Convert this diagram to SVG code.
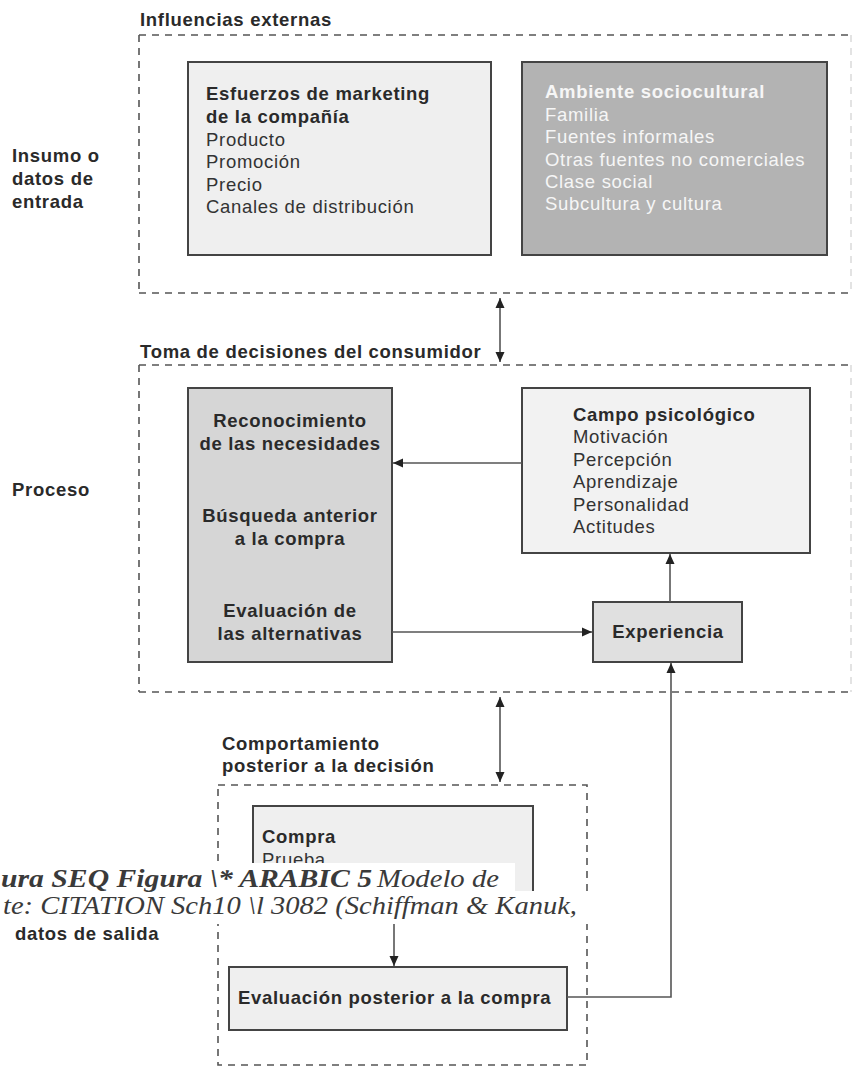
<svg xmlns="http://www.w3.org/2000/svg" width="858" height="1068" viewBox="0 0 858 1068">
<defs>
<marker id="ah" viewBox="0 0 10 10" refX="10" refY="5" markerWidth="10" markerHeight="10" markerUnits="userSpaceOnUse" orient="auto-start-reverse">
<path d="M0,0.5 L10,5 L0,9.5 z" fill="#222"/>
</marker>
<clipPath id="cutPrueba"><rect x="253" y="806" width="280" height="57"/></clipPath>
<style>
.t{font-family:"Liberation Sans",Arial,sans-serif;font-size:18.5px;letter-spacing:0.7px;fill:#333}
.b{font-weight:bold;fill:#2a2a2a}
.w{fill:#f6f6f6}
.c{text-anchor:middle}
.dash{fill:none;stroke:#555;stroke-width:1.6;stroke-dasharray:7 6}
.faint{fill:none;stroke:#d8d8d8;stroke-width:1.4;stroke-dasharray:7 6}
.box{stroke:#444;stroke-width:2}
.con{fill:none;stroke:#555;stroke-width:1.6}
.cap{font-family:"Liberation Serif","Times New Roman",serif;font-style:italic;font-size:26px;fill:#3a3a3a}
</style>
</defs>
<rect width="858" height="1068" fill="#fff"/>

<g id="side-labels">
<text class="t b" x="12" y="162">Insumo o</text>
<text class="t b" x="12" y="185">datos de</text>
<text class="t b" x="12" y="208">entrada</text>
<text class="t b" x="12" y="496">Proceso</text>
<text class="t b" x="15" y="940">datos de salida</text>
</g>

<g id="influencias-externas">
<text class="t b" x="140" y="26">Influencias externas</text>
<path class="dash" d="M139,35 H851 M139,35 V293 M139,293 H851"/>
<path class="faint" d="M851,35 V293"/>
</g>

<g id="marketing">
<rect class="box" x="188" y="62" width="303" height="193" fill="#efefef"/>
<text class="t b" x="206" y="100">Esfuerzos de marketing</text>
<text class="t b" x="206" y="123">de la compañía</text>
<text class="t" x="206" y="146">Producto</text>
<text class="t" x="206" y="168">Promoción</text>
<text class="t" x="206" y="191">Precio</text>
<text class="t" x="206" y="213">Canales de distribución</text>
</g>

<g id="sociocultural">
<rect class="box" x="522" y="62" width="305" height="193" fill="#b3b3b3"/>
<text class="t b w" x="545" y="98">Ambiente sociocultural</text>
<text class="t w" x="545" y="121">Familia</text>
<text class="t w" x="545" y="143">Fuentes informales</text>
<text class="t w" x="545" y="166">Otras fuentes no comerciales</text>
<text class="t w" x="545" y="188">Clase social</text>
<text class="t w" x="545" y="210">Subcultura y cultura</text>
</g>

<g id="toma-decisiones">
<text class="t b" x="140" y="358">Toma de decisiones del consumidor</text>
<path class="dash" d="M139,365 H851 M139,365 V692 M139,692 H851"/>
<path class="faint" d="M851,365 V692"/>
</g>

<g id="proceso-decision">
<rect class="box" x="188" y="388" width="204" height="274" fill="#d6d6d6"/>
<text class="t b c" x="290" y="427">Reconocimiento</text>
<text class="t b c" x="290" y="450">de las necesidades</text>
<text class="t b c" x="290" y="522">Búsqueda anterior</text>
<text class="t b c" x="290" y="545">a la compra</text>
<text class="t b c" x="290" y="617">Evaluación de</text>
<text class="t b c" x="290" y="640">las alternativas</text>
</g>

<g id="campo-psicologico">
<rect class="box" x="522" y="388" width="288" height="165" fill="#f2f2f2"/>
<text class="t b" x="573" y="421">Campo psicológico</text>
<text class="t" x="573" y="443">Motivación</text>
<text class="t" x="573" y="466">Percepción</text>
<text class="t" x="573" y="488">Aprendizaje</text>
<text class="t" x="573" y="511">Personalidad</text>
<text class="t" x="573" y="533">Actitudes</text>
</g>

<g id="experiencia">
<rect class="box" x="593" y="602" width="149" height="60" fill="#e0e0e0"/>
<text class="t b c" x="668" y="638">Experiencia</text>
</g>

<g id="comportamiento-posterior">
<text class="t b" x="222" y="750">Comportamiento</text>
<text class="t b" x="222" y="772">posterior a la decisión</text>
<path class="dash" d="M218,785 H587 V1065 H218 Z"/>
</g>

<g id="compra">
<rect class="box" x="253" y="806" width="280" height="100" fill="#efefef"/>
<text class="t b" x="262" y="843">Compra</text>
<text class="t" x="262" y="866" clip-path="url(#cutPrueba)">Prueba</text>
</g>

<g id="evaluacion-posterior">
<rect class="box" x="229" y="967" width="338" height="63" fill="#efefef"/>
<text class="t b" x="238" y="1004">Evaluación posterior a la compra</text>
</g>

<g id="connectors">
<line class="con" x1="500" y1="298" x2="500" y2="362" marker-start="url(#ah)" marker-end="url(#ah)"/>
<line class="con" x1="500" y1="697" x2="500" y2="782" marker-start="url(#ah)" marker-end="url(#ah)"/>
<line class="con" x1="522" y1="463" x2="393" y2="463" marker-end="url(#ah)"/>
<line class="con" x1="392" y1="632" x2="592" y2="632" marker-end="url(#ah)"/>
<line class="con" x1="670" y1="602" x2="670" y2="554" marker-end="url(#ah)"/>
<polyline class="con" points="567,997 671,997 671,663" marker-end="url(#ah)"/>
<line class="con" x1="394" y1="906" x2="394" y2="966" marker-end="url(#ah)"/>
</g>

<g id="caption">
<rect x="0" y="863" width="515" height="28" fill="#fff"/>
<rect x="0" y="891" width="592" height="33" fill="#fff"/>
<text class="cap" x="1" y="887" font-weight="bold" textLength="371" lengthAdjust="spacingAndGlyphs">ura  SEQ Figura \* ARABIC 5</text>
<text class="cap" x="377" y="887" textLength="122" lengthAdjust="spacingAndGlyphs">Modelo de</text>
<text class="cap" x="3" y="914" textLength="574" lengthAdjust="spacingAndGlyphs">te:  CITATION Sch10 \l 3082 (Schiffman &amp; Kanuk,</text>
</g>
</svg>
